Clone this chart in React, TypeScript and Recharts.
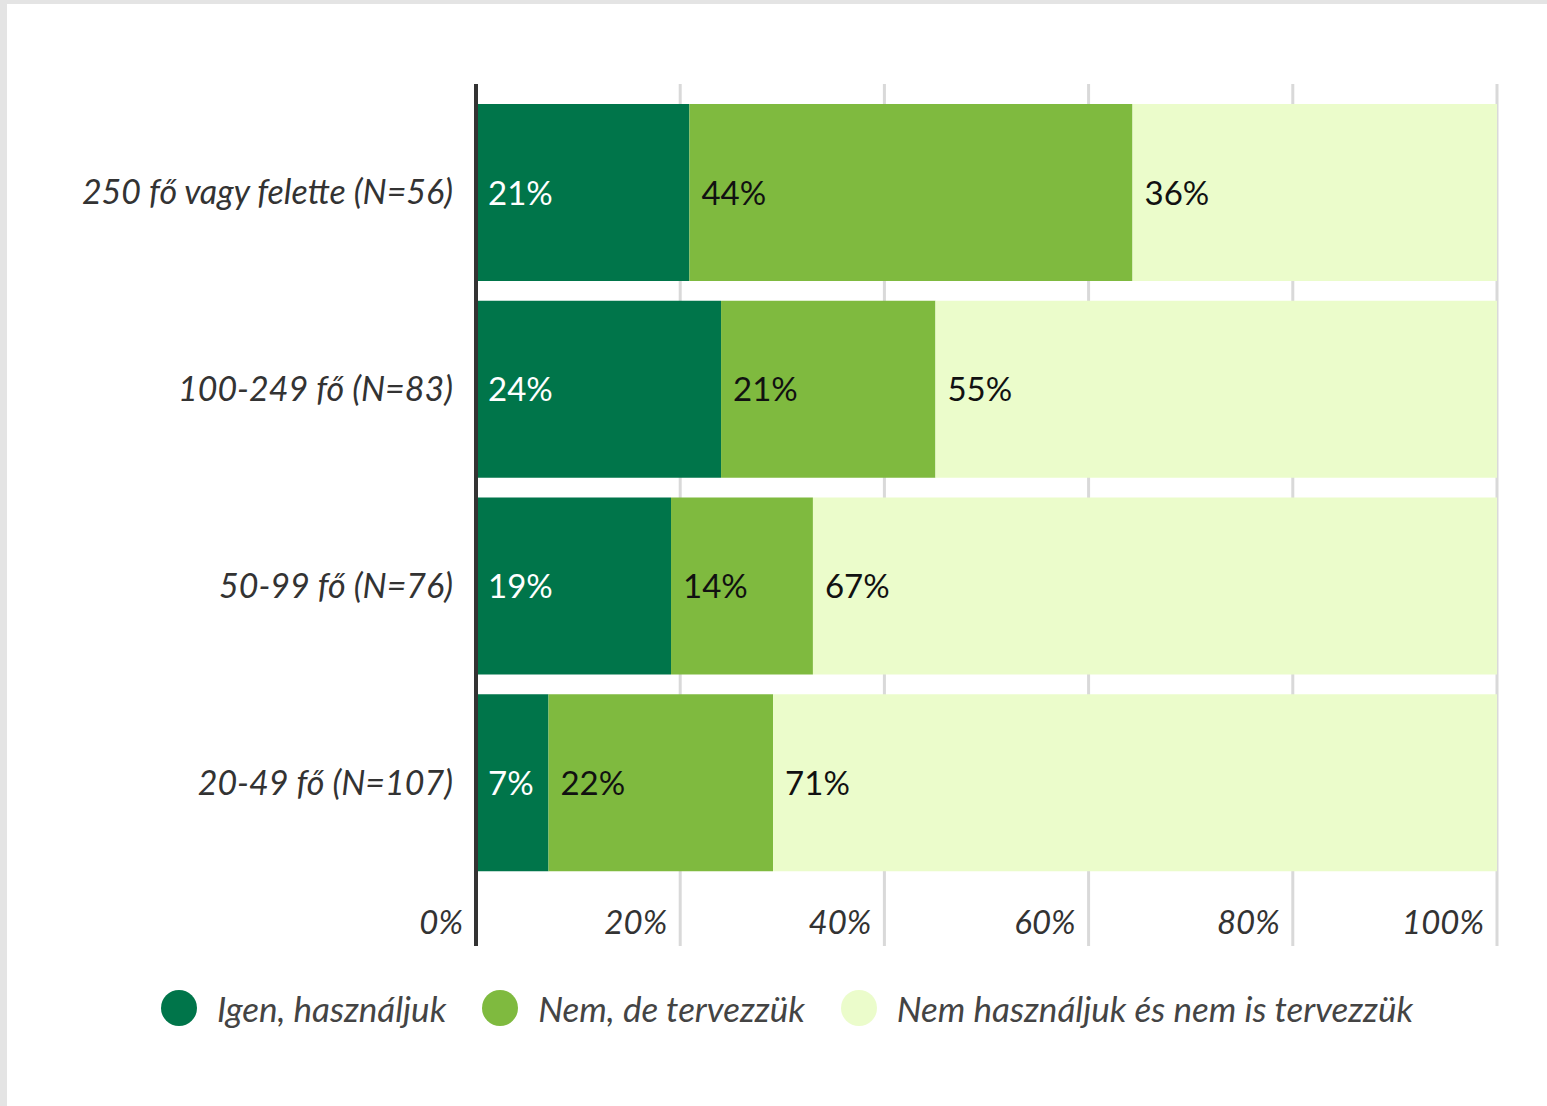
import React from "react";
import { BarChart, Bar, XAxis, YAxis, CartesianGrid, LabelList } from "recharts";

const categories = [
  "250 fő vagy felette (N=56)",
  "100-249 fő (N=83)",
  "50-99 fő (N=76)",
  "20-49 fő (N=107)",
];
const igen = [20.9, 24, 19.1, 7.1];
const nemDe = [43.4, 21, 13.9, 22];
const nemIs = [35.7, 55, 67, 70.9];
const igenLabels = ["21%", "24%", "19%", "7%"];
const nemDeLabels = ["44%", "21%", "14%", "22%"];
const nemIsLabels = ["36%", "55%", "67%", "71%"];
const xTicks = [0, 20, 40, 60, 80, 100];
const seriesNames = ["Igen, használjuk", "Nem, de tervezzük", "Nem használjuk és nem is tervezzük"];
const colors = ["#00754a", "#7fba3f", "#ebfccb"];

const data = categories.map((c, i) => ({
  cat: c,
  igen: igen[i],
  nemDe: nemDe[i],
  nemIs: nemIs[i],
}));

const FONT = "Lato, 'Noto Sans', sans-serif";

const makeLabel = (labels: string[], color: string) => (props: any) => {
  const { x, y, height, index } = props;
  return (
    <text
      x={x + 12}
      y={y + height / 2 + 12}
      fill={color}
      fontFamily={FONT}
      fontSize={33}
      textAnchor="start"
    >
      {labels[index]}
    </text>
  );
};

const YTick = (props: any) => {
  const { x, y, payload } = props;
  return (
    <text
      x={x - 15}
      y={y + 12}
      textAnchor="end"
      fill="#333"
      fontFamily={FONT}
      fontStyle="italic"
      fontSize={34}
    >
      {payload.value}
    </text>
  );
};

const XTick = (props: any) => {
  const { x, y, payload } = props;
  return (
    <text
      x={x - 13}
      y={y - 20}
      textAnchor="end"
      fill="#333"
      fontFamily={FONT}
      fontStyle="italic"
      fontSize={33}
    >
      {payload.value}%
    </text>
  );
};

export default function App() {
  return (
    <div style={{ position: "absolute", left: 0, top: 0, width: 1547, height: 1106, background: "#e4e4e4" }}>
      <div style={{ position: "absolute", left: 7, top: 4, width: 1540, height: 1102, background: "#fff" }} />
      <div style={{ position: "absolute", left: 0, top: 0 }}>
        <BarChart
          width={1547}
          height={1106}
          data={data}
          layout="vertical"
          margin={{ top: 84, right: 50, bottom: 130, left: 6 }}
          barCategoryGap={10}
        >
          <CartesianGrid horizontal={false} vertical stroke="#d9d9d9" strokeWidth={3} />
          <XAxis
            type="number"
            domain={[0, 100]}
            ticks={xTicks}
            axisLine={false}
            tickLine={false}
            height={30}
            tick={<XTick />}
            interval={0}
          />
          <YAxis
            type="category"
            dataKey="cat"
            width={470}
            padding={{ top: 10, bottom: 65 }}
            axisLine={{ stroke: "#333", strokeWidth: 4 }}
            tickLine={false}
            tick={<YTick />}
            interval={0}
          />
          <Bar dataKey="igen" stackId="a" fill={colors[0]} isAnimationActive={false}>
            <LabelList dataKey="igen" content={makeLabel(igenLabels, "#fff")} />
          </Bar>
          <Bar dataKey="nemDe" stackId="a" fill={colors[1]} isAnimationActive={false}>
            <LabelList dataKey="nemDe" content={makeLabel(nemDeLabels, "#111")} />
          </Bar>
          <Bar dataKey="nemIs" stackId="a" fill={colors[2]} isAnimationActive={false}>
            <LabelList dataKey="nemIs" content={makeLabel(nemIsLabels, "#111")} />
          </Bar>
        </BarChart>
      </div>
      <div
        style={{
          position: "absolute",
          left: 0,
          top: 988,
          width: 1547,
          paddingLeft: 27,
          boxSizing: "border-box",
          display: "flex",
          justifyContent: "center",
          alignItems: "center",
          fontFamily: FONT,
          fontStyle: "italic",
          fontSize: 35,
          color: "#444",
        }}
      >
        {seriesNames.map((n, i) => (
          <div key={n} style={{ display: "flex", alignItems: "center", marginRight: i < 2 ? 36 : 0 }}>
            <span
              style={{
                display: "inline-block",
                width: 36,
                height: 36,
                borderRadius: 18,
                background: colors[i],
                marginRight: 20,
              }}
            />
            <span style={{ lineHeight: "40px" }}>{n}</span>
          </div>
        ))}
      </div>
    </div>
  );
}
